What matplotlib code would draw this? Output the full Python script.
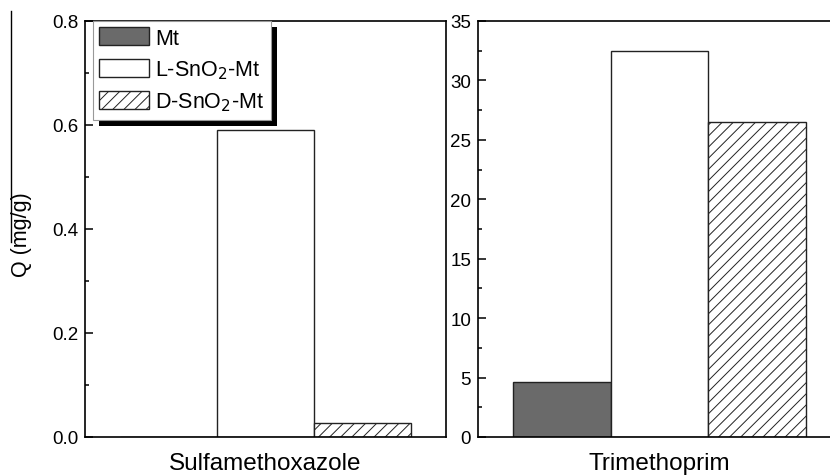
import numpy as np
import matplotlib
matplotlib.use('Agg')
import matplotlib.pyplot as plt
from matplotlib.patches import Rectangle
from matplotlib.lines import Line2D
from matplotlib.ticker import MultipleLocator

plt.rcParams['font.family'] = ['Liberation Sans', 'DejaVu Sans']

# data
series = ['Mt', 'L-SnO$_2$-Mt', 'D-SnO$_2$-Mt']
sulfa = [0.0, 0.59, 0.026]
trime = [4.65, 32.45, 26.5]
panels = ['Sulfamethoxazole', 'Trimethoprim']

colors = ['#6a6a6a', 'white', 'white']
hatches = [None, None, '///']

W, H = 830, 477
fig = plt.figure(figsize=(W/100, H/100), dpi=100)
plt.rcParams['hatch.linewidth'] = 0.7

ax1 = fig.add_axes([85/W, 1-438/H, 361/W, 416/H])
ax2 = fig.add_axes([478/W, 1-438/H, 363/W, 416/H])

x = np.arange(3)
half = 361/2/97

for ax, vals, ymax, major, minor, name in [(ax1, sulfa, 0.8, 0.2, 0.1, panels[0]),
                                            (ax2, trime, 35, 5, 2.5, panels[1])]:
  bars = ax.bar(x, vals, width=1.0, color=colors, edgecolor='#222222', linewidth=1.0)
  for b, h in zip(bars, hatches):
    if h:
      b.set_hatch(h)
  ax.set_xlim(1-half, 1+half)
  ax.set_ylim(0, ymax)
  ax.set_xticks([])
  ax.yaxis.set_major_locator(MultipleLocator(major))
  ax.yaxis.set_minor_locator(MultipleLocator(minor))
  ax.tick_params(axis='y', which='major', direction='in', length=6, width=1.1, pad=5, labelsize=13.5)
  ax.tick_params(axis='y', which='minor', direction='in', length=3, width=1.1)
  ax.tick_params(axis='y', right=False, which='both')
  for s in ax.spines.values():
    s.set_linewidth(1.2)
  ax.text(0.5, -0.0625, name, transform=ax.transAxes, ha='center', va='center', fontsize=17.5)

ax1.yaxis.set_major_formatter(matplotlib.ticker.FormatStrFormatter('%.1f'))

fig.text(22/W, 1-235/H, 'Q (mg/g)', rotation=90, ha='center', va='center', fontsize=15.5)

# legend
handles = [Rectangle((0, 0), 1, 1, facecolor=c, edgecolor='#222222', linewidth=1.0, hatch=h)
           for c, h in zip(colors, hatches)]
leg = ax1.legend(handles, series, loc='upper left', bbox_to_anchor=(8/361, 1.0),
                 borderaxespad=0, fontsize=15.5, handlelength=2.3, handleheight=0.9,
                 labelspacing=0.45, handletextpad=0.3, borderpad=0.3,
                 fancybox=False, framealpha=1, edgecolor='#999999')
leg.get_frame().set_linewidth(0.8)
leg.set_zorder(6)

fig.canvas.draw()
bb = leg.get_window_extent()
sh = Rectangle((bb.x0 + 6, bb.y0 - 6), bb.width, bb.height, transform=None,
               facecolor='black', edgecolor='none', zorder=5.5)
ax1.add_artist(sh)

# stray line at the left edge
fig.add_artist(Line2D([10.5/W, 10.5/W], [1-12/H, 1-243/H], transform=fig.transFigure,
                      color='black', linewidth=1.0))

plt.savefig('out.png', dpi=100)
